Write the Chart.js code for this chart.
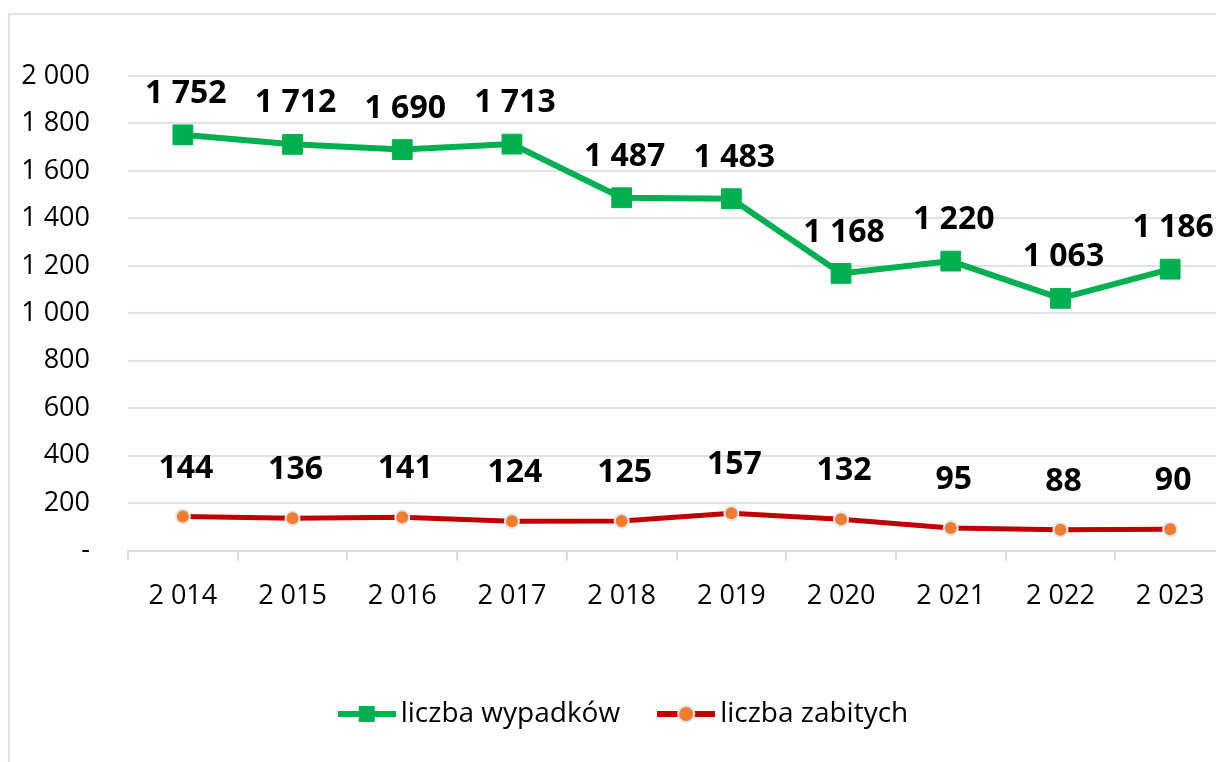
<!DOCTYPE html>
<html>
<head>
<meta charset="utf-8">
<script src="https://cdn.jsdelivr.net/npm/chart.js@4"></script>
<style>
  html, body { margin: 0; padding: 0; background: #fff; overflow: hidden; }
  #ramka { position: absolute; left: 8px; top: 13px; width: 1320px; height: 800px; border: 2px solid #dde1e8; box-sizing: border-box; }
  #wrap { position: absolute; left: 0; top: 0; width: 1290px; height: 762px; }
</style>
</head>
<body>
<div id="ramka"></div>
<div id="wrap"><canvas id="myChart" width="1290" height="762"></canvas></div>
<script>
// dane z wykresu
let lata = [2014, 2015, 2016, 2017, 2018, 2019, 2020, 2021, 2022, 2023];
let wypadki = [1752, 1712, 1690, 1713, 1487, 1483, 1168, 1220, 1063, 1186];
let zabici = [144, 136, 141, 124, 125, 157, 132, 95, 88, 90];
let osY = [0, 200, 400, 600, 800, 1000, 1200, 1400, 1600, 1800, 2000];

const FONT = "'Open Sans', 'Liberation Sans', sans-serif";

function formatuj(v) {
    if (v === 0) return '-';
    return String(v).replace(/\B(?=(\d{3})+(?!\d))/g, ' ');
}

// symbol legendy: linia z markerem
function symbolLegendy(kolorLinii, rysujMarker) {
    let c = document.createElement('canvas');
    c.width = 58;
    c.height = 24;
    let g = c.getContext('2d');
    g.strokeStyle = kolorLinii;
    g.lineWidth = 6;
    g.beginPath();
    g.moveTo(0, 12);
    g.lineTo(58, 12);
    g.stroke();
    rysujMarker(g);
    return c;
}

let symbolZielony = symbolLegendy('#00b050', g => {
    g.fillStyle = '#00b050';
    g.fillRect(21, 4, 16, 16);
});
let symbolCzerwony = symbolLegendy('#c00000', g => {
    g.beginPath();
    g.arc(29, 12, 8, 0, Math.PI * 2);
    g.fillStyle = '#ed7d31';
    g.fill();
    g.lineWidth = 2;
    g.strokeStyle = '#e6e6e6';
    g.stroke();
});

// etykiety nad punktami
const etykiety = {
    id: 'etykiety',
    afterLayout(chart) {
        // legenda troche w prawo, jak w oryginale
        chart.legend.left += 10;
        chart.legend.right += 10;
    },
    afterDatasetsDraw(chart) {
        const ctx = chart.ctx;
        ctx.save();
        ctx.font = 'bold 32px ' + FONT;
        ctx.fillStyle = '#000';
        ctx.textAlign = 'center';
        ctx.textBaseline = 'middle';
        chart.data.datasets.forEach((ds, i) => {
            const meta = chart.getDatasetMeta(i);
            meta.data.forEach((p, j) => {
                ctx.fillText(formatuj(ds.data[j]), p.x + 3, p.y - ds.przesuniecie);
            });
        });
        ctx.restore();
    }
};

var ctx = document.getElementById('myChart').getContext('2d');
var myChart = new Chart(ctx, {
    type: 'line',
    data: {
        labels: lata.map(formatuj),
        datasets: [{
            label: 'liczba wypadków',
            data: wypadki,
            borderColor: '#00b050',
            backgroundColor: '#00b050',
            borderWidth: 6,
            pointStyle: 'rect',
            pointRadius: 14,
            pointBorderWidth: 1,
            pointBorderColor: '#00b050',
            pointBackgroundColor: '#00b050',
            przesuniecie: 41,
            symbol: symbolZielony
        }, {
            label: 'liczba zabitych',
            data: zabici,
            borderColor: '#c00000',
            backgroundColor: '#ed7d31',
            borderWidth: 5,
            pointStyle: 'circle',
            pointRadius: 7,
            pointBorderWidth: 2,
            pointBorderColor: '#e6e6e6',
            pointBackgroundColor: '#ed7d31',
            przesuniecie: 48,
            symbol: symbolCzerwony
        }]
    },
    options: {
        responsive: false,
        animation: false,
        layout: {
            padding: { left: 10, right: 65, top: 76, bottom: 24 }
        },
        plugins: {
            tooltip: { enabled: false },
            legend: {
                position: 'bottom',
                labels: {
                    usePointStyle: true,
                    pointStyleWidth: 40,
                    padding: 46,
                    color: '#000',
                    font: { family: FONT, size: 28 },
                    generateLabels(chart) {
                        return chart.data.datasets.map((ds, i) => ({
                            text: ds.label,
                            pointStyle: ds.symbol,
                            fillStyle: ds.borderColor,
                            strokeStyle: ds.borderColor,
                            lineWidth: 0,
                            hidden: false,
                            datasetIndex: i,
                            fontColor: '#000'
                        }));
                    }
                }
            }
        },
        scales: {
            x: {
                offset: true,
                afterFit(s) { s.height += 21; },
                grid: {
                    offset: true,
                    drawOnChartArea: false,
                    drawTicks: true,
                    tickLength: 10,
                    color: '#d9dde5',
                    lineWidth: 2
                },
                border: { display: true, color: '#d9dde5', width: 2 },
                ticks: {
                    color: '#000',
                    padding: 20,
                    maxRotation: 0,
                    font: { family: FONT, size: 27 }
                }
            },
            y: {
                min: 0,
                max: 2000,
                afterFit(s) { s.width = 118; },
                afterBuildTicks(s) { s.ticks = osY.map(v => ({ value: v })); },
                grid: { drawTicks: false, color: '#dfe2e9', lineWidth: 2 },
                border: { display: false },
                ticks: {
                    color: '#000',
                    padding: 38,
                    font: { family: FONT, size: 27 },
                    callback: v => formatuj(v)
                }
            }
        }
    },
    plugins: [etykiety]
});
</script>
</body>
</html>
